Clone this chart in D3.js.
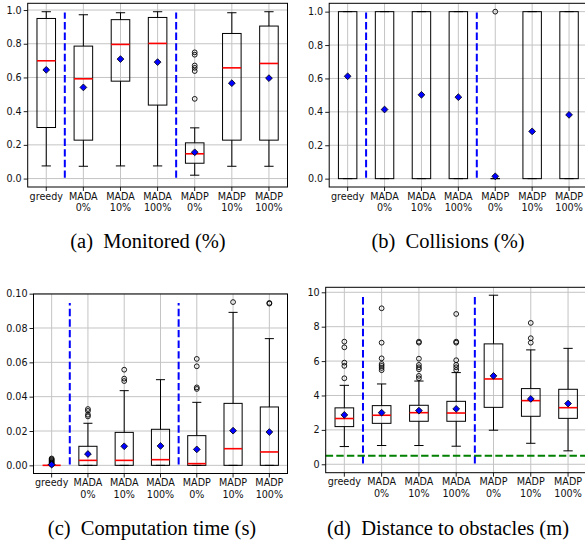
<!DOCTYPE html>
<html>
<head>
<meta charset="utf-8">
<script src="https://cdn.jsdelivr.net/npm/d3@7"></script>
<style>
body { margin: 0; background: #fff; }
text { font-family: "DejaVu Sans", sans-serif; }
.caption { font-family: "Liberation Serif", "Times New Roman", serif; }
</style>
</head>
<body>
<div id="chart"></div>
<script>
// categories, two-line tick labels
let categories = [["greedy"], ["MADA", "0%"], ["MADA", "10%"], ["MADA", "100%"], ["MADP", "0%"], ["MADP", "10%"], ["MADP", "100%"]];

// box stats: [whisker low, q1, median, q3, whisker high]
let monitoredBoxes = [
	[0.075, 0.303, 0.699, 0.950, 0.990],
	[0.073, 0.228, 0.592, 0.786, 0.972],
	[0.075, 0.578, 0.796, 0.943, 0.984],
	[0.075, 0.436, 0.802, 0.956, 0.990],
	[0.020, 0.091, 0.147, 0.212, 0.301],
	[0.073, 0.228, 0.657, 0.861, 0.984],
	[0.073, 0.228, 0.683, 0.905, 0.990]
];
let monitoredMeans = [0.645, 0.541, 0.709, 0.691, 0.156, 0.566, 0.596];
let monitoredFliers = [[], [], [], [], [0.473, 0.638, 0.657, 0.671, 0.735, 0.749], [], []];

let collisionBoxes = [
	[0, 0, 1, 1, 1],
	[0, 0, 0, 1, 1],
	[0, 0, 0.5, 1, 1],
	[0, 0, 0, 1, 1],
	[0, 0, 0, 0, 0],
	[0, 0, 0, 1, 1],
	[0, 0, 0, 1, 1]
];
let collisionMeans = [0.613, 0.414, 0.502, 0.488, 0.014, 0.283, 0.382];
let collisionFliers = [[], [], [], [], [1.0], [], []];

let timeBoxes = [
	[0, 0, 0, 0, 0],
	[0, 0, 0.0029, 0.0111, 0.0245],
	[0, 0, 0.0029, 0.0192, 0.0435],
	[0, 0, 0.0033, 0.0210, 0.0499],
	[0, 0, 0.0010, 0.0173, 0.0367],
	[0, 0, 0.0097, 0.0361, 0.0891],
	[0, 0, 0.0078, 0.0340, 0.0738]
];
let timeMeans = [0.0004, 0.0066, 0.0111, 0.0113, 0.0093, 0.0202, 0.0194];
let timeFliers = [
	[0.0005, 0.001, 0.0015, 0.002, 0.0025, 0.003, 0.0035, 0.004],
	[0.0285, 0.0295, 0.0317, 0.0328],
	[0.0491, 0.0505, 0.0557],
	[],
	[0.0445, 0.0454, 0.0577, 0.0620],
	[0.0951],
	[0.0942, 0.0946]
];

let distanceBoxes = [
	[1.03, 2.19, 2.66, 3.28, 4.59],
	[1.09, 2.38, 2.85, 3.41, 4.67],
	[1.09, 2.50, 3.00, 3.43, 4.84],
	[1.05, 2.50, 2.98, 3.66, 5.33],
	[1.98, 3.31, 4.96, 7.00, 9.83],
	[1.22, 2.79, 3.70, 4.40, 6.65],
	[0.78, 2.67, 3.29, 4.36, 6.74]
];
let distanceMeans = [2.87, 3.00, 3.12, 3.22, 5.14, 3.80, 3.53];
let distanceFliers = [
	[5.00, 5.72, 5.91, 6.80, 7.13],
	[5.47, 5.60, 5.72, 5.83, 6.16, 7.07, 9.07],
	[5.00, 5.14, 5.52, 5.64, 5.78, 6.14, 7.07, 7.13],
	[5.48, 5.64, 5.78, 6.05, 7.07, 7.13, 8.74],
	[],
	[7.07, 7.33, 8.22],
	[]
];
let safetyDistance = 0.5;

let svg = d3.select('#chart').append('svg')
	.attr('width', 585)
	.attr('height', 545);

let panels = [
	{ left: 27.7, right: 287.5, top: 3.3, bottom: 187, yDomain: [-0.05, 1.04], ticks: [0, 0.2, 0.4, 0.6, 0.8, 1.0], fmt: '.1f',
		boxes: monitoredBoxes, means: monitoredMeans, fliers: monitoredFliers, median: true, caption: '(a)\u00a0 Monitored (%)', capX: 148, capY: 248 },
	{ left: 329.2, right: 587.5, top: 3.3, bottom: 187, yDomain: [-0.05, 1.05], ticks: [0, 0.2, 0.4, 0.6, 0.8, 1.0], fmt: '.1f',
		boxes: collisionBoxes, means: collisionMeans, fliers: collisionFliers, median: false, caption: '(b)\u00a0 Collisions (%)', capX: 448, capY: 248 },
	{ left: 33.5, right: 287.5, top: 294, bottom: 473.5, yDomain: [-0.00475, 0.0998], ticks: [0, 0.02, 0.04, 0.06, 0.08, 0.10], fmt: '.2f',
		boxes: timeBoxes, means: timeMeans, fliers: timeFliers, median: true, caption: '(c)\u00a0 Computation time (s)', capX: 152, capY: 535 },
	{ left: 325.7, right: 586.7, top: 287.3, bottom: 472.7, yDomain: [-0.49, 10.29], ticks: [0, 2, 4, 6, 8, 10], fmt: 'd',
		boxes: distanceBoxes, means: distanceMeans, fliers: distanceFliers, median: true, hline: safetyDistance, caption: '(d)\u00a0 Distance to obstacles (m)', capX: 448, capY: 535 }
];

function drawPanel(p) {
	let x = d3.scaleLinear().domain([0.5, 7.5]).range([p.left, p.right]);
	let y = d3.scaleLinear().domain(p.yDomain).range([p.bottom, p.top]);
	let positions = d3.range(1, 8);
	let g = svg.append('g');

	// grid
	g.selectAll('.gy').data(p.ticks).enter().append('line')
		.attr('x1', p.left).attr('x2', p.right)
		.attr('y1', d => y(d)).attr('y2', d => y(d))
		.attr('stroke', '#c4c4c4').attr('stroke-width', 1);
	g.selectAll('.gx').data(positions).enter().append('line')
		.attr('x1', d => x(d)).attr('x2', d => x(d))
		.attr('y1', p.top).attr('y2', p.bottom)
		.attr('stroke', '#c4c4c4').attr('stroke-width', 1);

	// y axis
	let yAxis = d3.axisLeft(y)
		.tickValues(p.ticks)
		.tickFormat(d3.format(p.fmt))
		.tickSize(4)
		.tickPadding(2)
		.tickSizeOuter(0);
	let ya = g.append('g')
		.attr('transform', 'translate(' + p.left + ',0)')
		.call(yAxis);
	ya.select('.domain').remove();
	ya.selectAll('text').attr('font-size', 9.6).attr('fill', '#111');
	ya.selectAll('line').attr('stroke', '#222');

	// x axis ticks and labels
	g.selectAll('.xt').data(positions).enter().append('line')
		.attr('x1', d => x(d)).attr('x2', d => x(d))
		.attr('y1', p.bottom).attr('y2', p.bottom + 4)
		.attr('stroke', '#222');
	let xl = g.selectAll('.xl').data(categories).enter().append('text')
		.attr('text-anchor', 'middle')
		.attr('font-size', 9.6)
		.attr('fill', '#111')
		.attr('transform', (d, i) => 'translate(' + x(i + 1) + ',' + (p.bottom + 12.5) + ')');
	xl.selectAll('tspan').data(d => d).enter().append('tspan')
		.attr('x', 0)
		.attr('y', (d, i) => i * 11.5)
		.text(d => d);

	let hw = 0.25, cw = 0.125;
	p.boxes.forEach(function(b, i) {
		let c = i + 1;
		// whiskers
		g.append('line').attr('x1', x(c)).attr('x2', x(c)).attr('y1', y(b[0])).attr('y2', y(b[1])).attr('stroke', '#000').attr('stroke-width', 1);
		g.append('line').attr('x1', x(c)).attr('x2', x(c)).attr('y1', y(b[3])).attr('y2', y(b[4])).attr('stroke', '#000').attr('stroke-width', 1);
		// caps
		[b[0], b[4]].forEach(function(v) {
			g.append('line').attr('x1', x(c - cw)).attr('x2', x(c + cw)).attr('y1', y(v)).attr('y2', y(v)).attr('stroke', '#000').attr('stroke-width', 1);
		});
		// box
		g.append('rect')
			.attr('x', x(c - hw)).attr('width', x(c + hw) - x(c - hw))
			.attr('y', y(b[3])).attr('height', Math.max(0, y(b[1]) - y(b[3])))
			.attr('fill', 'none').attr('stroke', '#000').attr('stroke-width', b[1] === b[3] ? 2 : 1);
		// median
		if (p.median) {
			g.append('line').attr('x1', x(c - hw)).attr('x2', x(c + hw)).attr('y1', y(b[2])).attr('y2', y(b[2]))
				.attr('stroke', '#ff0000').attr('stroke-width', 1.6);
		}
		// fliers
		g.selectAll(null).data(p.fliers[i]).enter().append('circle')
			.attr('cx', x(c)).attr('cy', d => y(d)).attr('r', 2.4)
			.attr('fill', 'none').attr('stroke', '#000').attr('stroke-width', 0.9);
		// mean
		let s = 3.4, mx = x(c), my = y(p.means[i]);
		g.append('path')
			.attr('d', 'M' + mx + ',' + (my - s) + 'L' + (mx + s) + ',' + my + 'L' + mx + ',' + (my + s) + 'L' + (mx - s) + ',' + my + 'Z')
			.attr('fill', '#0000ff').attr('stroke', '#000').attr('stroke-width', 0.8);
	});

	// separators
	let h = p.bottom - p.top;
	[1.5, 4.5].forEach(function(v) {
		g.append('line')
			.attr('x1', x(v)).attr('x2', x(v))
			.attr('y1', p.bottom - 0.05 * h).attr('y2', p.bottom - 0.95 * h)
			.attr('stroke', '#0000ff').attr('stroke-width', 2).attr('stroke-dasharray', '7.4,3.2');
	});
	if (p.hline !== undefined) {
		g.append('line')
			.attr('x1', p.left).attr('x2', p.right)
			.attr('y1', y(p.hline)).attr('y2', y(p.hline))
			.attr('stroke', '#008000').attr('stroke-width', 2).attr('stroke-dasharray', '7.4,3.2');
	}

	// frame
	g.append('rect')
		.attr('x', p.left).attr('y', p.top)
		.attr('width', p.right - p.left).attr('height', p.bottom - p.top)
		.attr('fill', 'none').attr('stroke', '#000').attr('stroke-width', 1);

	// caption
	g.append('text').classed('caption', true)
		.attr('x', p.capX).attr('y', p.capY)
		.attr('text-anchor', 'middle')
		.attr('font-size', 20.5)
		.attr('fill', '#000')
		.text(p.caption);
}

panels.forEach(drawPanel);
</script>
</body>
</html>
